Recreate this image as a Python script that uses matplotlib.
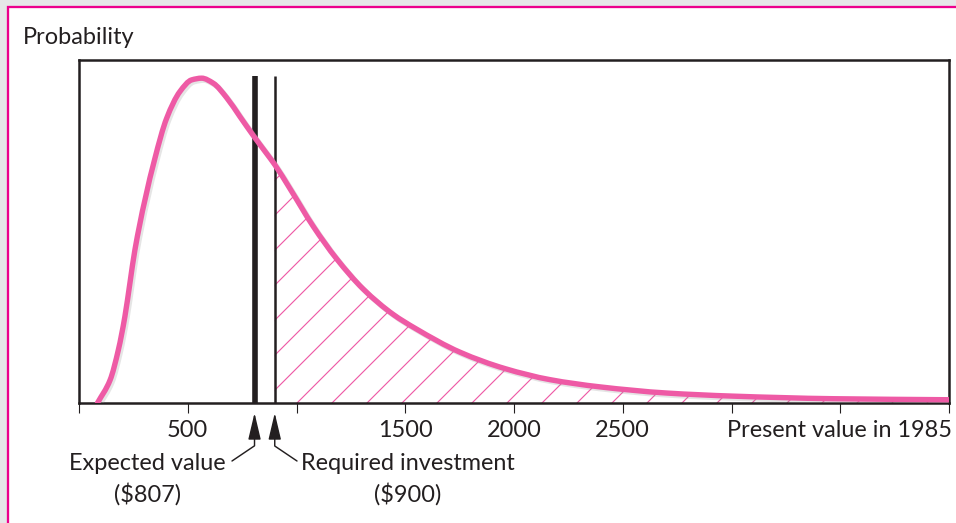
import numpy as np
import matplotlib
matplotlib.use("Agg")
import matplotlib.pyplot as plt
from matplotlib.patches import Rectangle, PathPatch
from matplotlib.path import Path
import matplotlib.patheffects as pe

# ---- data ----
pv_values = [85, 143, 181, 211, 234, 257, 349, 403, 464, 518, 564,
             618, 679, 740, 801, 863, 900, 970, 1077, 1185, 1307, 1445, 1545,
             1752, 1960, 2166, 2395, 2703, 3007, 3467, 4000]
probability = [0.0, 0.067, 0.155, 0.252, 0.349, 0.446, 0.713,
               0.830, 0.908, 0.942, 0.947, 0.932, 0.890, 0.835, 0.780, 0.727, 0.695,
               0.625, 0.515, 0.420, 0.332, 0.258, 0.218, 0.148, 0.100, 0.068, 0.047,
               0.029, 0.020, 0.0125, 0.0095]
expected_value = 807
required_investment = 900
marker_line_top = 0.953
tick_values = [0, 500, 1000, 1500, 2000, 2500, 3000, 3500, 4000]
tick_labels = ["", "500", "", "1500", "2000", "2500", "", "", ""]
x_label = "Present value in 1985"
y_label = "Probability"
ev_label = ["Expected value", "($807)"]
ri_label = ["Required investment", "($900)"]

# ---- style ----
W, H, DPI = 956, 523, 105


def P(px):
    """pixels -> points at the output dpi"""
    return px * 72.0 / DPI


PINK = "#EE5AA5"
DARK = "#231F20"
FONT = "Lato"
FS = P(23.5)
plt.rcParams["font.family"] = [FONT, "DejaVu Sans"]
plt.rcParams["hatch.linewidth"] = P(1.15)


def smooth_path_codes(xs, ys):
    """Monotone cubic (PCHIP-style) Bezier path through the given points."""
    xs = np.asarray(xs, float)
    ys = np.asarray(ys, float)
    h = np.diff(xs)
    d = np.diff(ys) / h
    m = np.zeros_like(ys)
    m[0], m[-1] = d[0], d[-1]
    for k in range(1, len(xs) - 1):
        if d[k - 1] * d[k] <= 0:
            m[k] = 0.0
        else:
            w1 = 2 * h[k] + h[k - 1]
            w2 = h[k] + 2 * h[k - 1]
            m[k] = (w1 + w2) / (w1 / d[k - 1] + w2 / d[k])
    verts = [(xs[0], ys[0])]
    codes = [Path.MOVETO]
    for k in range(len(xs) - 1):
        verts += [(xs[k] + h[k] / 3, ys[k] + m[k] * h[k] / 3),
                  (xs[k + 1] - h[k] / 3, ys[k + 1] - m[k + 1] * h[k] / 3),
                  (xs[k + 1], ys[k + 1])]
        codes += [Path.CURVE4] * 3
    return verts, codes


fig = plt.figure(figsize=(W / DPI, H / DPI), dpi=DPI)
fig.patch.set_facecolor("#E6E7E8")
fig.add_artist(Rectangle((8 / W, -0.1), 1.2, (H - 7) / H + 0.1,
                         transform=fig.transFigure, facecolor="white",
                         edgecolor="#EC008C", linewidth=P(2.3), zorder=-10))

ax = fig.add_axes([79 / W, (H - 403) / H, (949 - 79) / W, (403 - 60) / H])
ax.set_facecolor("white")
ax.set_xlim(0, 4000)
ax.set_ylim(0, 1)

x = np.array(pv_values, dtype=float)
y = np.array(probability, dtype=float)

# hatched area right of the required investment
mask = x >= required_investment
hv, hc = smooth_path_codes(x[mask], y[mask])
hv += [(x[mask][-1], 0), (x[mask][0], 0), (x[mask][0], 0)]
hc += [Path.LINETO, Path.LINETO, Path.CLOSEPOLY]
ax.add_patch(PathPatch(Path(hv, hc), facecolor="none", edgecolor=PINK,
                       linewidth=0, hatch="/", zorder=1))

# vertical markers
ax.vlines([expected_value], 0, marker_line_top, color=DARK, linewidth=P(5.6), zorder=2)
ax.vlines([required_investment], 0, marker_line_top, color=DARK, linewidth=P(2.5), zorder=2)

# distribution curve
cv, cc = smooth_path_codes(x, y)
curve = PathPatch(Path(cv, cc), facecolor="none", edgecolor=PINK, linewidth=P(5.4),
                  capstyle="round", zorder=3,
                  path_effects=[pe.SimpleLineShadow(offset=(P(2), -P(2)), shadow_color="#999999", alpha=0.25),
                                pe.Normal()])
ax.add_patch(curve)

for s in ax.spines.values():
    s.set_linewidth(P(2.5))
    s.set_color(DARK)

ax.set_yticks([])
ax.set_xticks(tick_values)
ax.set_xticklabels(tick_labels, fontsize=FS, color=DARK)
ax.tick_params(axis="x", direction="out", length=P(10), width=P(1.1), pad=P(7.3), color=DARK)

ax.annotate(x_label, xy=(1, 0), xycoords="axes fraction",
            xytext=(P(3), -P(10) - P(7.3)), textcoords="offset points",
            ha="right", va="top", fontsize=FS, color=DARK)

fig.text(23 / W, 1 - 38 / H, y_label, ha="left", va="center", fontsize=FS, color=DARK)

# annotations with arrows
tip_y = -0.029
arrow_kw = dict(arrowstyle="-|>,head_length=1.1,head_width=0.26", mutation_scale=P(20.8),
                color=DARK, lw=P(1.45), shrinkA=0, shrinkB=0)
ax.annotate("", xy=(expected_value, tip_y), xycoords=("data", "axes fraction"),
            xytext=(232, H - 461), textcoords="figure pixels",
            arrowprops=dict(connectionstyle="angle,angleA=34,angleB=90,rad=0", **arrow_kw))
ax.annotate("", xy=(required_investment, tip_y), xycoords=("data", "axes fraction"),
            xytext=(297, H - 461), textcoords="figure pixels",
            arrowprops=dict(connectionstyle="angle,angleA=146,angleB=90,rad=0", **arrow_kw))

fig.text(147.5 / W, 1 - 463 / H, ev_label[0], ha="center", va="center", fontsize=FS, color=DARK)
fig.text(147.5 / W, 1 - 494 / H, ev_label[1], ha="center", va="center", fontsize=FS, color=DARK)
fig.text(408 / W, 1 - 463 / H, ri_label[0], ha="center", va="center", fontsize=FS, color=DARK)
fig.text(408 / W, 1 - 494 / H, ri_label[1], ha="center", va="center", fontsize=FS, color=DARK)

fig.savefig("out.png", dpi=DPI, facecolor=fig.get_facecolor())
